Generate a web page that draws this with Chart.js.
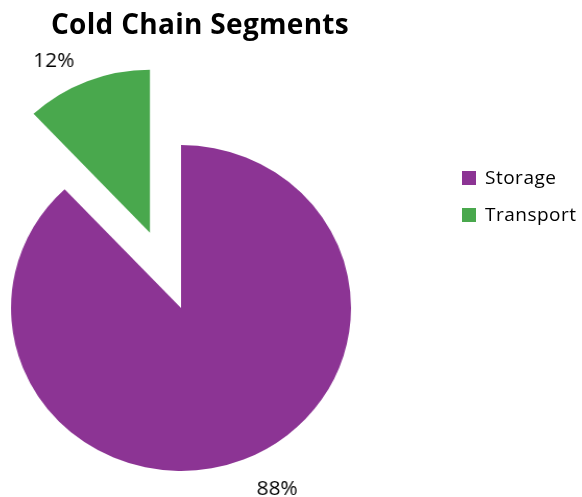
<!DOCTYPE html>
<html>
<head>
<meta charset="utf-8">
<script src="https://cdn.jsdelivr.net/npm/chart.js@4.4.0/dist/chart.umd.min.js"></script>
<style>
  html, body { margin: 0; padding: 0; background: #fff; }
  #wrap { position: relative; width: 582px; height: 497px; overflow: hidden; }
  #pie4 { position: absolute; left: 0; top: 0; transform: scaleX(1.043); transform-origin: 181px 0; }
  #title { position: absolute; left: 0; top: 4px; width: 400px; text-align: center;
           font: bold 28px "Open Sans", sans-serif; color: #000; letter-spacing: 0.3px; }
  #legend { position: absolute; left: 462px; top: 165px; font: 19px "Open Sans", sans-serif; color: #000; letter-spacing: 0.5px; }
  #legend div { height: 37px; line-height: 24px; white-space: nowrap; }
  #legend span { display: inline-block; width: 14px; height: 14px; margin-right: 9px; vertical-align: -1px; }
</style>
</head>
<body>
<div id="wrap">
  <canvas id="pie4" width="582" height="497"></canvas>
  <div id="title">Cold Chain Segments</div>
  <div id="legend"></div>
</div>
<script>
var categories = ["Storage", "Transport"];
var shares = [88, 12];
var sliceColors = ['#8c3494', '#49a84d'];
var explode = [0, 81];

// legend
var legendEl = document.getElementById('legend');
categories.forEach(function (c, i) {
  legendEl.innerHTML += '<div><span style="background:' + sliceColors[i] + '"></span>' + c + '</div>';
});

function midAngle(arc) {
  return (arc.startAngle + arc.endAngle) / 2;
}

// pull exploded slices out from the pie centre
var explodeSlices = {
  id: 'explodeSlices',
  beforeDatasetsDraw: function (chart) {
    var area = chart.chartArea;
    var cx = (area.left + area.right) / 2;
    var cy = (area.top + area.bottom) / 2;
    chart.getDatasetMeta(0).data.forEach(function (arc, i) {
      var a = midAngle(arc);
      arc.x = cx + Math.cos(a) * explode[i];
      arc.y = cy + Math.sin(a) * explode[i];
    });
  }
};

// percent labels outside the slices
var pctLabels = {
  id: 'pctLabels',
  afterDatasetsDraw: function (chart) {
    var ctx = chart.ctx;
    ctx.save();
    ctx.font = '20px "Open Sans", sans-serif';
    ctx.fillStyle = '#000';
    ctx.textAlign = 'center';
    ctx.textBaseline = 'middle';
    chart.getDatasetMeta(0).data.forEach(function (arc, i) {
      var a = midAngle(arc) - 6 * Math.PI / 180;
      var r = arc.outerRadius + 36;
      ctx.fillText(shares[i] + '%', arc.x + Math.cos(a) * r, arc.y + Math.sin(a) * r + 5);
    });
    ctx.restore();
  }
};

var ctx = document.getElementById("pie4").getContext('2d');
var myChart = new Chart(ctx, {
  type: 'pie',
  data: {
    labels: categories,
    datasets: [{
      data: shares,
      backgroundColor: sliceColors,
      borderWidth: 0
    }]
  },
  options: {
    responsive: false,
    animation: false,
    radius: 163,
    layout: { padding: { left: 0, right: 220, top: 119, bottom: 0 } },
    plugins: {
      legend: { display: false },
      title: { display: false },
      tooltip: { enabled: false }
    }
  },
  plugins: [explodeSlices, pctLabels]
});
</script>
</body>
</html>
